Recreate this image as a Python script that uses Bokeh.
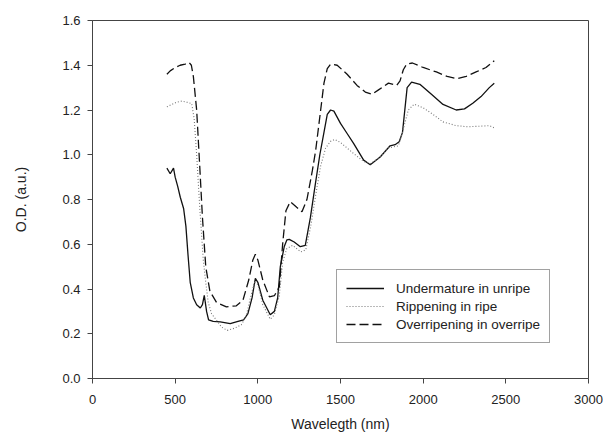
from bokeh.plotting import figure
from bokeh.models import Range1d, FixedTicker, PrintfTickFormatter, Legend, LegendItem
from bokeh.embed import file_html
from bokeh.resources import INLINE

# Undermature in unripe (solid)
x_under = [450, 470, 490, 500, 515, 531, 551, 565, 578, 591, 610, 630, 652, 665, 676, 690, 702, 730, 773, 833, 880,
           914, 940, 965, 985, 1000, 1030, 1075, 1100, 1120, 1136, 1160, 1176, 1190, 1220, 1257, 1287, 1318, 1348,
           1375, 1400, 1420, 1440, 1460, 1500, 1540, 1580, 1640, 1680, 1740, 1800, 1830, 1855, 1875, 1903, 1930,
           1980, 2050, 2120, 2200, 2250, 2300, 2350, 2400, 2430]
y_under = [0.94, 0.915, 0.94, 0.90, 0.86, 0.81, 0.76, 0.68, 0.55, 0.43, 0.36, 0.33, 0.315, 0.33, 0.372, 0.30, 0.262,
           0.255, 0.253, 0.245, 0.255, 0.262, 0.29, 0.36, 0.448, 0.43, 0.35, 0.285, 0.30, 0.36, 0.50, 0.59, 0.62,
           0.622, 0.61, 0.589, 0.595, 0.72, 0.87, 1.0, 1.1, 1.18, 1.20, 1.195, 1.14, 1.095, 1.05, 0.976, 0.955,
           0.99, 1.04, 1.045, 1.058, 1.10, 1.30, 1.325, 1.315, 1.27, 1.225, 1.20, 1.205, 1.23, 1.26, 1.30, 1.32]

# Rippening in ripe (dotted)
x_ripe = [450, 480, 510, 541, 570, 600, 615, 630, 650, 670, 685, 700, 720, 750, 780, 815, 860, 900, 930, 955,
          980, 1000, 1030, 1075, 1100, 1130, 1150, 1175, 1210, 1260, 1290, 1320, 1350, 1380, 1410, 1440, 1465,
          1500, 1580, 1640, 1680, 1730, 1790, 1850, 1875, 1910, 1945, 2000, 2060, 2120, 2200, 2270, 2350, 2400,
          2430]
y_ripe = [1.214, 1.225, 1.235, 1.24, 1.235, 1.229, 1.16, 1.0, 0.75, 0.53, 0.43, 0.34, 0.29, 0.26, 0.23, 0.215,
          0.225, 0.24, 0.28, 0.36, 0.43, 0.42, 0.33, 0.265, 0.285, 0.37, 0.52, 0.58, 0.595, 0.566, 0.575, 0.68,
          0.82, 0.95, 1.03, 1.06, 1.068, 1.055, 1.005, 0.97, 0.96, 0.985, 1.03, 1.04, 1.10, 1.20, 1.226, 1.21,
          1.18, 1.147, 1.13, 1.125, 1.128, 1.13, 1.12]

# Overripening in overripe (dashed)
x_over = [450, 470, 500, 530, 560, 585, 598, 610, 630, 650, 665, 685, 710, 750, 810, 870, 910, 945, 970, 985,
          1000, 1030, 1070, 1100, 1130, 1150, 1170, 1196, 1235, 1267, 1297, 1330, 1350, 1380, 1400, 1420, 1440,
          1480, 1540, 1600, 1650, 1690, 1730, 1790, 1840, 1860, 1880, 1900, 1935, 2000, 2080, 2145, 2205, 2260,
          2320, 2380, 2430]
y_over = [1.36, 1.375, 1.39, 1.40, 1.405, 1.412, 1.40, 1.35, 1.2, 0.93, 0.72, 0.5, 0.39, 0.34, 0.32, 0.325, 0.35,
          0.44, 0.53, 0.555, 0.53, 0.44, 0.365, 0.37, 0.41, 0.6, 0.75, 0.79, 0.765, 0.745, 0.8, 0.93, 1.02, 1.2,
          1.32, 1.385, 1.405, 1.40, 1.36, 1.31, 1.28, 1.27, 1.29, 1.32, 1.31, 1.33, 1.38, 1.405, 1.41, 1.39, 1.37,
          1.35, 1.34, 1.35, 1.37, 1.39, 1.42]

x_ticks = [0, 500, 1000, 1500, 2000, 2500, 3000]
y_ticks = [0.0, 0.2, 0.4, 0.6, 0.8, 1.0, 1.2, 1.4, 1.6]

FONT = "Liberation Sans"
TXT = "#222222"
AX = "#444444"

p = figure(width=603, height=434, output_backend="svg", toolbar_location=None,
           x_range=Range1d(0, 3000), y_range=Range1d(0, 1.6),
           min_border_left=92, min_border_right=15, min_border_top=20, min_border_bottom=56)
p.xgrid.visible = False
p.ygrid.visible = False
p.outline_line_color = AX
p.outline_line_width = 1
p.background_fill_color = "white"
p.border_fill_color = "white"

p.xaxis.ticker = FixedTicker(ticks=x_ticks)
p.yaxis.ticker = FixedTicker(ticks=y_ticks)
p.yaxis.formatter = PrintfTickFormatter(format="%.1f")
for ax in (p.xaxis, p.yaxis):
    ax.axis_line_color = AX
    ax.major_tick_line_color = AX
    ax.major_tick_in = 0
    ax.major_tick_out = 5
    ax.minor_tick_line_color = None
    ax.major_label_text_font = FONT
    ax.major_label_text_font_size = "13px"
    ax.major_label_text_color = TXT
    ax.axis_label_text_font = FONT
    ax.axis_label_text_font_size = "14px"
    ax.axis_label_text_font_style = "normal"
    ax.axis_label_text_color = TXT
p.xaxis.major_label_standoff = 11
p.yaxis.major_label_standoff = 7
p.xaxis.axis_label = "Wavelegth (nm)"
p.yaxis.axis_label = "O.D. (a.u.)"
p.xaxis.axis_label_standoff = 9
p.yaxis.axis_label_standoff = 30

r1 = p.line(x_under, y_under, line_color="#111111", line_width=1.3)
r2 = p.line(x_ripe, y_ripe, line_color="#777777", line_width=1.1, line_dash="1 2")
r3 = p.line(x_over, y_over, line_color="#111111", line_width=1.3, line_dash="9 4")

legend = Legend(items=[LegendItem(label="Undermature in unripe", renderers=[r1]),
                       LegendItem(label="Rippening in ripe", renderers=[r2]),
                       LegendItem(label="Overripening in overripe", renderers=[r3])],
                location=(244, 35))
legend.border_line_color = AX
legend.border_line_width = 1
legend.background_fill_alpha = 1
legend.label_text_font = FONT
legend.label_text_font_size = "13.5px"
legend.label_text_color = TXT
legend.glyph_width = 38
legend.glyph_height = 18
legend.label_height = 18
legend.label_standoff = 12
legend.spacing = 0
legend.padding = 9
legend.margin = 0
p.add_layout(legend, "center")

open("out.html", "w").write(file_html(p, INLINE))
